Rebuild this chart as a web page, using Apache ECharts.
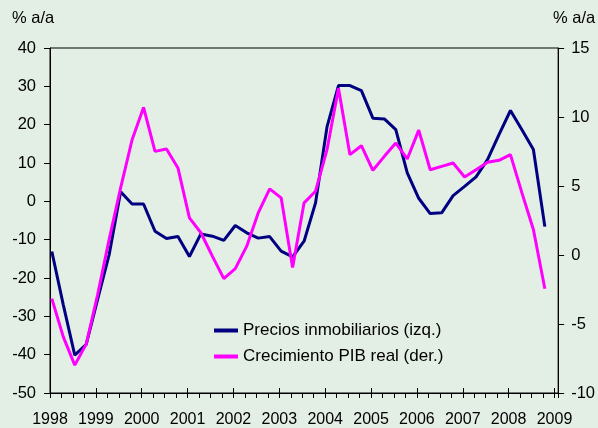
<!DOCTYPE html>
<html>
<head>
<meta charset="utf-8">
<script src="https://cdn.jsdelivr.net/npm/echarts/dist/echarts.min.js"></script>
<style>
  html, body { margin: 0; padding: 0; background: #e3eee5; }
  #chart { width: 598px; height: 428px; }
</style>
</head>
<body>
<div id="chart"></div>
<script>
// trimestral, 1998T1 - 2008T4
const firstYear = 1998;
const quarters = [];
for (let y = 1998; y <= 2008; y++) {
  for (let q = 1; q <= 4; q++) quarters.push(y + "T" + q);
}

// Precios inmobiliarios, % a/a (eje izq.)
const precios = [
  -13.1, -27.0, -40.1, -37.3, -25.5, -13.9, 2.5, -0.7, -0.7, -7.8,
  -9.7, -9.2, -14.4, -8.5, -9.1, -10.2, -6.3, -8.2, -9.6, -9.2,
  -13.0, -14.5, -10.4, -0.4, 19.4, 30.2, 30.2, 28.9, 21.7, 21.5,
  18.7, 7.4, 0.8, -3.2, -3.0, 1.5, 3.9, 6.4, 10.9, 17.4,
  23.7, 18.7, 13.5, -6.6
];

// Crecimiento PIB real, % a/a (eje der.)
const pib = [
  -3.16, -5.93, -7.98, -6.46, -2.85, 1.13, 4.86, 8.35, 10.69, 7.51,
  7.68, 6.31, 2.69, 1.61, -0.08, -1.71, -0.99, 0.64, 3.05, 4.79,
  4.14, -0.9, 3.78, 4.62, 7.63, 12.09, 7.27, 7.92, 6.14, 7.15,
  8.11, 6.96, 9.05, 6.18, 6.42, 6.67, 5.65, 6.18, 6.72, 6.86,
  7.27, 4.5, 1.85, -2.44
];

const seriesNames = ["Precios inmobiliarios (izq.)", "Crecimiento PIB real (der.)"];
const unitLabel = "% a/a";

// posicion en el eje temporal de cada trimestre
function quarterPos(label) {
  const y = parseInt(label.slice(0, 4), 10);
  const q = parseInt(label.slice(5), 10);
  return y + (q - 1) / 4 + 0.04;
}

const font = "'Liberation Sans', Arial, sans-serif";
const black = "#000";

const chart = echarts.init(document.getElementById("chart"));

const xBase = {
  type: "value",
  min: firstYear,
  max: 2009.08,
  position: "bottom",
  splitLine: { show: false },
};

chart.setOption({
  animation: false,
  backgroundColor: "#e3eee5",
  grid: {
    left: 50, right: 36, top: 48, bottom: 35,
    show: true, borderColor: black, borderWidth: 1,
    backgroundColor: "transparent",
  },
  graphic: [
    { type: "text", left: 12, top: 10,
      style: { text: unitLabel, font: "16.5px " + font, fill: black } },
    { type: "text", left: 553, top: 10,
      style: { text: unitLabel, font: "16.5px " + font, fill: black } },
  ],
  legend: {
    orient: "vertical",
    left: 209, top: 317,
    itemWidth: 24, itemHeight: 4, itemGap: 9,
    icon: "rect",
    textStyle: { fontFamily: font, fontSize: 17, color: black },
    data: seriesNames,
  },
  xAxis: [
    Object.assign({}, xBase, {
      interval: 1,
      axisLine: { onZero: false, lineStyle: { color: black, width: 1 } },
      axisTick: { inside: true, length: 5, lineStyle: { color: black } },
      axisLabel: {
        margin: 19, fontFamily: font, fontSize: 16, color: black,
        showMaxLabel: false,
        formatter: (v) => (Number.isInteger(v) ? String(v) : ""),
      },
    }),
    Object.assign({}, xBase, {
      interval: 0.25,
      axisLine: { show: false, onZero: false },
      axisTick: { inside: false, length: 5, lineStyle: { color: black } },
      axisLabel: { show: false },
    }),
  ],
  yAxis: [
    {
      type: "value", position: "left",
      min: -50, max: 40, interval: 10,
      splitLine: { show: false },
      axisLine: { show: true, onZero: false, lineStyle: { color: black } },
      axisTick: { show: true, length: 6, lineStyle: { color: black } },
      axisLabel: { margin: 14, fontFamily: font, fontSize: 16.5, color: black },
    },
    {
      type: "value", position: "right",
      min: -10, max: 15, interval: 5,
      splitLine: { show: false },
      axisLine: { show: true, onZero: false, lineStyle: { color: black } },
      axisTick: { show: true, length: 6, lineStyle: { color: black } },
      axisLabel: { margin: 13, fontFamily: font, fontSize: 16.5, color: black },
    },
  ],
  series: [
    {
      name: seriesNames[0],
      type: "line",
      yAxisIndex: 0,
      symbol: "none",
      color: "#000080",
      lineStyle: { width: 3, color: "#000080" },
      data: quarters.map((q, i) => [quarterPos(q), precios[i]]),
    },
    {
      name: seriesNames[1],
      type: "line",
      yAxisIndex: 1,
      symbol: "none",
      color: "#ff00ff",
      lineStyle: { width: 3, color: "#ff00ff" },
      data: quarters.map((q, i) => [quarterPos(q), pib[i]]),
    },
  ],
});
</script>
</body>
</html>
